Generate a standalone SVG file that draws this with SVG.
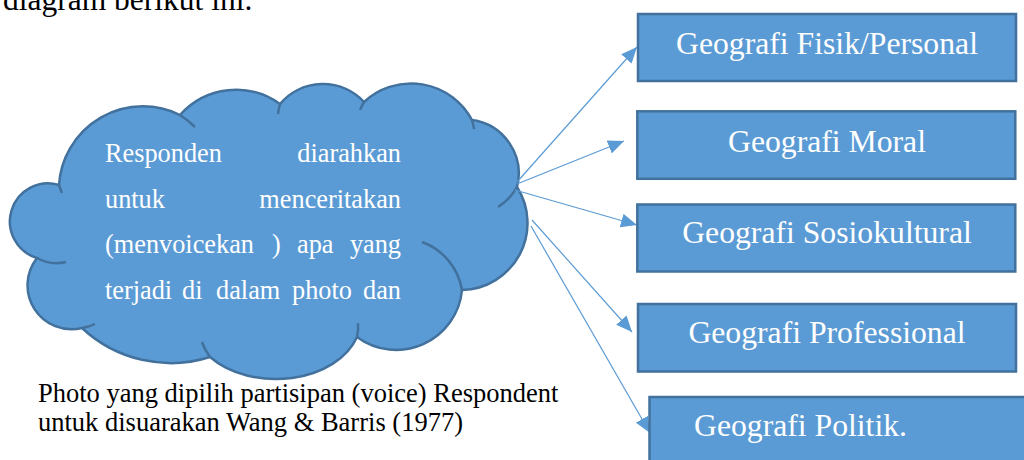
<svg xmlns="http://www.w3.org/2000/svg" width="1024" height="460" viewBox="0 0 1024 460">
<style>
.cloud{fill:#5B9BD5;stroke:#41719C;stroke-width:2.5}
.crease{fill:none;stroke:#41719C;stroke-width:2.5}
.box{fill:#5B9BD5;stroke:#41719C;stroke-width:2.5}
.conn{stroke:#5B9BD5;stroke-width:1.2;fill:none;marker-end:url(#ah)}
</style>
<defs>
<marker id="ah" markerUnits="userSpaceOnUse" markerWidth="17" markerHeight="14" refX="16" refY="7" orient="auto">
<path d="M0,0 L16,7 L0,14 Z" fill="#5B9BD5"/>
</marker>
</defs>
<rect width="1024" height="460" fill="#FFFFFF"/>
<text font-family="Liberation Serif, Times New Roman, serif" x="3" y="9.5" font-size="31.5" fill="#000000">diagram berikut ini.</text>
<g id="cloud">
<path class="cloud" d="M37,258 A38,38 0 0 1 59,185 A84,84 0 0 1 180,115 A75,75 0 0 1 280,104 A56,56 0 0 1 364,102 A69,69 0 0 1 472,120 A54,54 0 0 1 517,187 A67,67 0 0 1 462,290 A66,66 0 0 1 357,337 A85,60 0 0 1 210,357 A130,130 0 0 1 82,328 A44,44 0 0 1 37,258 Z"/>
<path class="crease" d="M59,185 A84,84 0 0 0 62,193"/>
<path class="crease" d="M180,115 A84,84 0 0 1 195,127"/>
<path class="crease" d="M280,104 A56,56 0 0 0 278,114"/>
<path class="crease" d="M364,102 A69,69 0 0 0 360,110"/>
<path class="crease" d="M472,120 A69,69 0 0 1 474,129"/>
<path class="crease" d="M517,187 A54,54 0 0 1 498,207"/>
<path class="crease" d="M462,290 A62,62 0 0 0 422,242"/>
<path class="crease" d="M357,337 A85,60 0 0 0 358,323"/>
<path class="crease" d="M210,357 A85,60 0 0 1 202,342"/>
<path class="crease" d="M82,328 A44,44 0 0 0 95,324"/>
<path class="crease" d="M37,258 A40,40 0 0 0 66,262"/>
<g font-family="Liberation Serif, Times New Roman, serif" font-size="26.3" fill="#FFFFFF">
<text x="105" y="162">Responden</text>
<text x="401" y="162" text-anchor="end">diarahkan</text>
<text x="105" y="207.5">untuk</text>
<text x="401" y="207.5" text-anchor="end">menceritakan</text>
<text y="253"><tspan x="105">(menvoicekan</tspan><tspan x="272">)</tspan><tspan x="297">apa</tspan></text>
<text x="401" y="253" text-anchor="end">yang</text>
<text y="298.5"><tspan x="105">terjadi</tspan><tspan x="182">di</tspan><tspan x="216">dalam</tspan><tspan x="292">photo</tspan></text>
<text x="401" y="298.5" text-anchor="end">dan</text>
</g>
</g>
<g id="caption" font-family="Liberation Serif, Times New Roman, serif" font-size="26.5" fill="#000000">
<text x="38" y="402">Photo yang dipilih partisipan (voice) Respondent</text>
<text x="38" y="431">untuk disuarakan Wang &amp; Barris (1977)</text>
</g>
<g id="connectors">
<path class="conn" d="M517,182 L637,47"/>
<path class="conn" d="M517,184 L624,141"/>
<path class="conn" d="M515,190 L637,225"/>
<path class="conn" d="M532,220 L632,332"/>
<path class="conn" d="M531,226 L650,433"/>
</g>
<g font-family="Liberation Serif, Times New Roman, serif" font-size="31.7" fill="#FFFFFF">
<g id="box-fisik">
<rect class="box" x="638" y="14" width="378" height="67"/>
<text x="827" y="53.5" text-anchor="middle">Geografi Fisik/Personal</text>
</g>
<g id="box-moral">
<rect class="box" x="637.3" y="111.3" width="378" height="67.5"/>
<text x="827" y="151.7" text-anchor="middle">Geografi Moral</text>
</g>
<g id="box-sosiokultural">
<rect class="box" x="637.3" y="204.5" width="378" height="67"/>
<text x="827" y="243.3" text-anchor="middle">Geografi Sosiokultural</text>
</g>
<g id="box-professional">
<rect class="box" x="638" y="304" width="378" height="67.5"/>
<text x="827" y="343.3" text-anchor="middle">Geografi Professional</text>
</g>
<g id="box-politik">
<rect class="box" x="649.5" y="397" width="400" height="100"/>
<text x="694" y="436">Geografi Politik.</text>
</g>
</g>
</svg>
